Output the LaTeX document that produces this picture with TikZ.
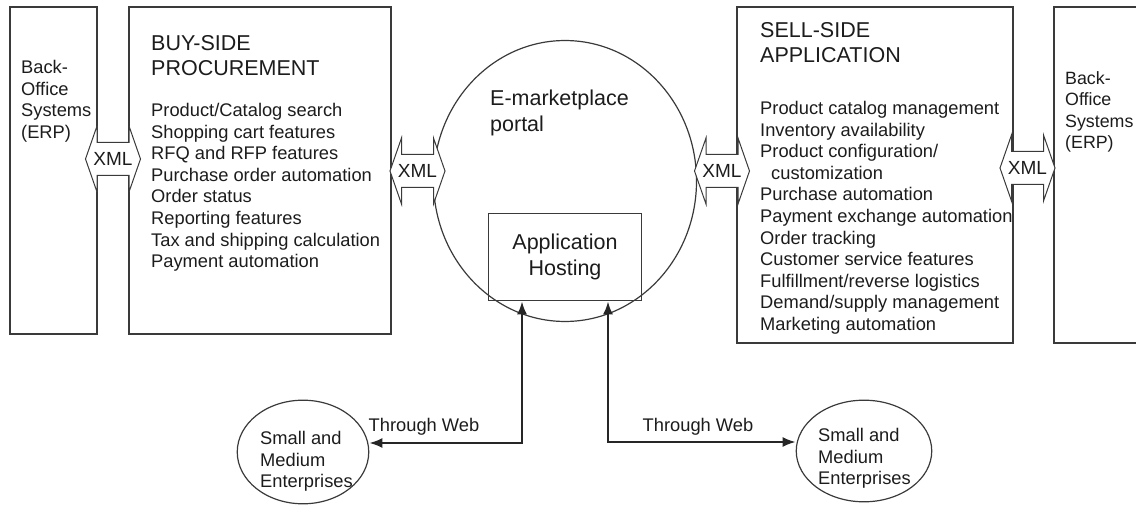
\documentclass[tikz,border=0pt]{standalone}
\usepackage{fontspec}
\setmainfont{Liberation Sans}
\usetikzlibrary{arrows.meta,shapes.geometric,fit}
\definecolor{linegray}{HTML}{3A3A3A}
\definecolor{inkgray}{HTML}{1C1C1C}
\newcommand{\bodyfont}{\fontsize{18.3bp}{21.6bp}\selectfont}
\newcommand{\headfont}{\fontsize{21.5bp}{25.5bp}\selectfont}
\begin{document}
\begin{tikzpicture}[x=1bp,y=-1bp,
  box/.style={draw=linegray,line width=1.6bp,inner sep=0pt},
  oval/.style={draw=linegray,line width=1.2bp,ellipse,inner sep=0pt},
  txt/.style={text=inkgray,inner sep=0pt,align=left,anchor=north west,font=\bodyfont},
  headtxt/.style={txt,font=\headfont},
  xmlline/.style={draw=linegray,line width=1bp,fill=white,line join=miter},
  xmltext/.style={text=inkgray,inner sep=0pt,font=\fontsize{19bp}{22bp}\selectfont},
  web/.style={draw=black!85,line width=2bp,{Latex[length=13bp,width=10bp]}-{Latex[length=13bp,width=10bp]}},
  xmlarrow/.pic={
    \path[xmlline] (-27.5,0) -- (-16,-33) -- (-16,-16.5) -- (16,-16.5) -- (16,-33)
      -- (27.5,0) -- (16,33) -- (16,16.5) -- (-16,16.5) -- (-16,33) -- cycle;
    \node[xmltext] (-label) at (0,0) {XML};
  }]
\useasboundingbox (0,0) rectangle (1136,506);
\clip (0,0) rectangle (1136,506);

% back-office and application blocks
\node (lbo)  [box,fit={(10,7) (97,334)}] {};
\node (buy)  [box,fit={(129,7) (391,334)}] {};
\node (sell) [box,fit={(737,7) (1013,343)}] {};
\node (rbo)  [box,fit={(1054,7) (1160,343)}] {};

\node (lbotext) [txt] at (21,60) {Back-\\Office\\Systems\\(ERP)};
\node (rbotext) [txt,font=\fontsize{17.8bp}{21.6bp}\selectfont] at (1065,71) {Back-\\Office\\Systems\\(ERP)};

\node (buyhead) [headtxt] at (151,35) {BUY-SIDE\\PROCUREMENT};
\node (buylist) [txt] at (151,103) {Product/Catalog search\\Shopping cart features\\
  RFQ and RFP features\\Purchase order automation\\Order status\\Reporting features\\
  Tax and shipping calculation\\Payment automation};

\node (sellhead) [headtxt] at (760,22) {SELL-SIDE\\APPLICATION};
\node (selllist) [txt] at (760,101) {Product catalog management\\Inventory availability\\
  Product configuration/\\\hspace*{11bp}customization\\Purchase automation\\
  Payment exchange automation\\Order tracking\\Customer service features\\
  Fulfillment/reverse logistics\\Demand/supply management\\Marketing automation};

% marketplace portal with its hosting block
\node (portal) [oval,minimum width=264,minimum height=282] at (565,181) {};
\node (portaltext) [headtxt] at (490,90) {E-marketplace\\portal};
\node (host) [box,line width=1.2bp,minimum width=154,minimum height=88,
  align=center,text=inkgray,font=\headfont] at (565,257) {Application\\Hosting};

% XML exchange links
\pic (xa) at (113,159) {xmlarrow};
\pic (xb) at (417.5,171) {xmlarrow};
\pic (xc) at (722,171) {xmlarrow};
\pic (xd) at (1027.5,168) {xmlarrow};

% small and medium enterprises reaching the hosting block
\node (smeL) [oval,minimum width=132,minimum height=104] at (303,452) {};
\node (smeLtext) [txt] at (260,431) {Small and\\Medium\\Enterprises};
\node (smeR) [oval,minimum width=136,minimum height=102] at (864,451) {};
\node (smeRtext) [txt] at (818,428) {Small and\\Medium\\Enterprises};

\coordinate (cL) at (522,443);
\coordinate (cR) at (608,442);
\draw[web] (host.south -| cL) -- (cL) -- (cL -| smeL.east);
\draw[web] (host.south -| cR) -- (cR) -- (cR -| smeR.west);
\node (webL) [text=inkgray,inner sep=0pt,font=\bodyfont] at (424,427) {Through Web};
\node (webR) [text=inkgray,inner sep=0pt,font=\bodyfont] at (698,427) {Through Web};
\end{tikzpicture}
\end{document}
